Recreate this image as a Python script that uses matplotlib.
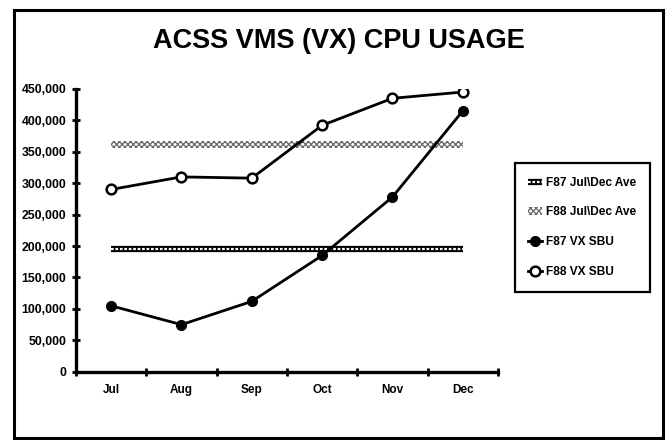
import matplotlib
matplotlib.use("Agg")
import matplotlib.pyplot as plt
from matplotlib.lines import Line2D
from matplotlib.patches import Patch, Rectangle
import numpy as np

plt.rcParams['font.family'] = ['Liberation Sans', 'DejaVu Sans']
plt.rcParams['font.weight'] = 'bold'
plt.rcParams['hatch.linewidth'] = 0.9

# data
months = ['Jul', 'Aug', 'Sep', 'Oct', 'Nov', 'Dec']
f87_sbu = [105000, 75000, 112000, 185000, 278000, 415000]
f88_sbu = [290000, 310000, 308000, 392000, 435000, 445000]
f87_ave = 195000
f88_ave = 362000
yticks = np.arange(0, 450001, 50000)

fig = plt.figure(figsize=(6.72, 4.4), dpi=100)
ax = fig.add_axes([0.113, 0.155, 0.628, 0.643])

x = np.arange(len(months)) + 0.5

# average bands
ax.plot(x, [f87_ave] * len(x), color='black', lw=4.5, solid_capstyle='butt', zorder=2)
ax.plot(x, [f87_ave] * len(x), color='white', lw=1.6, ls=(0, (1.2, 0.8)), zorder=3)
ax.fill_between(x, f88_ave - 5500, f88_ave + 5500, facecolor='white',
                edgecolor='#666666', hatch='xxxxxx', lw=0, zorder=2)

# monthly series
ax.plot(x, f87_sbu, color='black', lw=2.0, marker='o', ms=7,
        mfc='black', mec='black', zorder=4)
ax.plot(x, f88_sbu, color='black', lw=2.0, marker='o', ms=7,
        mfc='white', mec='black', mew=1.8, zorder=4)

ax.set_xlim(0, len(months))
ax.set_ylim(0, 450000)
ax.set_yticks(yticks)
ax.set_yticklabels([f'{v:,}' for v in yticks])
ax.set_xticks(np.arange(len(months) + 1))
ax.set_xticklabels([])
ax.set_xticks(x, minor=True)
ax.set_xticklabels(months, minor=True)
ax.tick_params(axis='x', which='minor', length=0, pad=9, labelsize=8.5)
ax.tick_params(axis='x', which='major', direction='inout', length=6, width=2)
ax.tick_params(axis='y', direction='inout', length=6, width=2, labelsize=8.8, pad=4)

for s in ['top', 'right']:
    ax.spines[s].set_visible(False)
for s in ['left', 'bottom']:
    ax.spines[s].set_linewidth(2.4)

fig.text(0.505, 0.907, 'ACSS VMS (VX) CPU USAGE', ha='center', va='center',
         fontsize=19.5, fontweight='bold')

# legend
h_f87ave = (Line2D([], [], color='black', lw=4.5, solid_capstyle='butt'),
            Line2D([], [], color='white', lw=1.6, ls=(0, (1.2, 0.8))))
h_f88ave = Patch(facecolor='white', edgecolor='#666666', hatch='xxxxxx', lw=0)
h_f87 = Line2D([], [], color='black', lw=2.0, marker='o', ms=7, mfc='black')
h_f88 = Line2D([], [], color='black', lw=2.0, marker='o', ms=7, mfc='white', mew=1.8)
leg = fig.legend([h_f87ave, h_f88ave, h_f87, h_f88],
                 ['F87 Jul\\Dec Ave', 'F88 Jul\\Dec Ave', 'F87 VX SBU', 'F88 VX SBU'],
                 loc='upper left', bbox_to_anchor=(0.766, 0.630), fontsize=8.6,
                 handlelength=1.1, handleheight=0.6, handletextpad=0.4,
                 labelspacing=1.5, borderpad=1.15, borderaxespad=0, fancybox=False,
                 edgecolor='black', framealpha=1)
leg.get_frame().set_linewidth(1.6)

# outer frame
fig.patches.append(Rectangle((0.021, 0.005), 0.966, 0.973, transform=fig.transFigure,
                             fill=False, edgecolor='black', lw=2.2))

fig.savefig('out.png', dpi=100)
